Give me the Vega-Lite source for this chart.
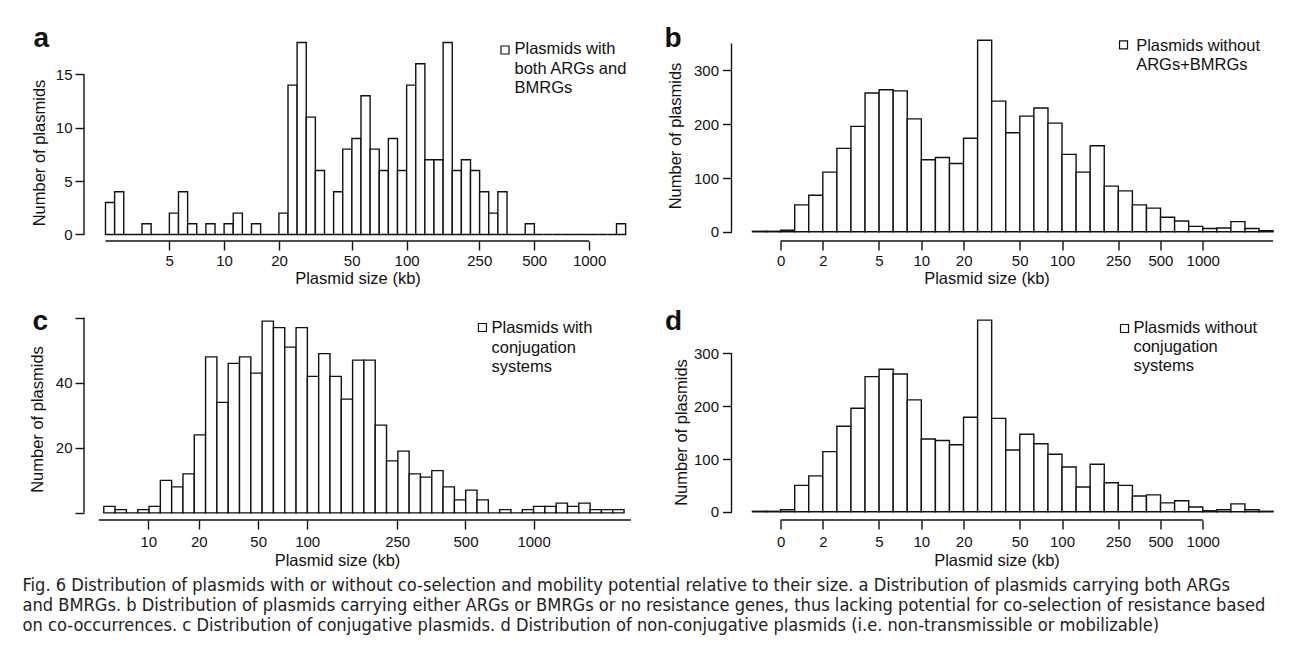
{
  "$schema": "https://vega.github.io/schema/vega-lite/v6.json",
  "background": "white",
  "padding": {"left": 22, "top": 25, "right": 0, "bottom": 0},
  "columns": 2,
  "spacing": {"row": 72, "column": 103.5},
  "bounds": "flush",
  "title": {
    "text": [
      "Fig. 6 Distribution of plasmids with or without co-selection and mobility potential relative to their size. a Distribution of plasmids carrying both ARGs",
      "and BMRGs. b Distribution of plasmids carrying either ARGs or BMRGs or no resistance genes, thus lacking potential for co-selection of resistance based",
      "on co-occurrences. c Distribution of conjugative plasmids. d Distribution of non-conjugative plasmids (i.e. non-transmissible or mobilizable)"
    ],
    "orient": "bottom", "anchor": "start", "frame": "group", "dx": -61.5, "offset": 8,
    "font": "Liberation Sans Narrow, DejaVu Sans Condensed, sans-serif", "fontSize": 18.1, "fontWeight": "normal",
    "color": "#222", "lineHeight": 20
  },
  "datasets": {
    "a": [
      {"lo":0.35,"hi":0.40,"count":3},{"lo":0.40,"hi":0.45,"count":4},{"lo":0.45,"hi":0.50,"count":0},{"lo":0.50,"hi":0.55,"count":0},
      {"lo":0.55,"hi":0.60,"count":1},{"lo":0.60,"hi":0.65,"count":0},{"lo":0.65,"hi":0.70,"count":0},{"lo":0.70,"hi":0.75,"count":2},
      {"lo":0.75,"hi":0.80,"count":4},{"lo":0.80,"hi":0.85,"count":1},{"lo":0.85,"hi":0.90,"count":0},{"lo":0.90,"hi":0.95,"count":1},
      {"lo":0.95,"hi":1.00,"count":0},{"lo":1.00,"hi":1.05,"count":1},{"lo":1.05,"hi":1.10,"count":2},{"lo":1.10,"hi":1.15,"count":0},
      {"lo":1.15,"hi":1.20,"count":1},{"lo":1.20,"hi":1.25,"count":0},{"lo":1.25,"hi":1.30,"count":0},{"lo":1.30,"hi":1.35,"count":2},
      {"lo":1.35,"hi":1.40,"count":14},{"lo":1.40,"hi":1.45,"count":18},{"lo":1.45,"hi":1.50,"count":11},{"lo":1.50,"hi":1.55,"count":6},
      {"lo":1.55,"hi":1.60,"count":0},{"lo":1.60,"hi":1.65,"count":4},{"lo":1.65,"hi":1.70,"count":8},{"lo":1.70,"hi":1.75,"count":9},
      {"lo":1.75,"hi":1.80,"count":13},{"lo":1.80,"hi":1.85,"count":8},{"lo":1.85,"hi":1.90,"count":6},{"lo":1.90,"hi":1.95,"count":9},
      {"lo":1.95,"hi":2.00,"count":6},{"lo":2.00,"hi":2.05,"count":14},{"lo":2.05,"hi":2.10,"count":16},{"lo":2.10,"hi":2.15,"count":7},
      {"lo":2.15,"hi":2.20,"count":7},{"lo":2.20,"hi":2.25,"count":18},{"lo":2.25,"hi":2.30,"count":6},{"lo":2.30,"hi":2.35,"count":7},
      {"lo":2.35,"hi":2.40,"count":6},{"lo":2.40,"hi":2.45,"count":4},{"lo":2.45,"hi":2.50,"count":2},{"lo":2.50,"hi":2.55,"count":4},
      {"lo":2.55,"hi":2.60,"count":0},{"lo":2.60,"hi":2.65,"count":0},{"lo":2.65,"hi":2.70,"count":1},{"lo":2.70,"hi":2.75,"count":0},
      {"lo":2.75,"hi":2.80,"count":0},{"lo":2.80,"hi":2.85,"count":0},{"lo":2.85,"hi":2.90,"count":0},{"lo":2.90,"hi":2.95,"count":0},
      {"lo":2.95,"hi":3.00,"count":0},{"lo":3.00,"hi":3.05,"count":0},{"lo":3.05,"hi":3.10,"count":0},{"lo":3.10,"hi":3.15,"count":0},
      {"lo":3.15,"hi":3.20,"count":1}
    ],
    "b": [
      {"lo":-0.2,"hi":-0.1,"count":1},{"lo":-0.1,"hi":0.0,"count":1},{"lo":0.0,"hi":0.1,"count":3},{"lo":0.1,"hi":0.2,"count":50},
      {"lo":0.2,"hi":0.3,"count":68},{"lo":0.3,"hi":0.4,"count":111},{"lo":0.4,"hi":0.5,"count":155},{"lo":0.5,"hi":0.6,"count":196},
      {"lo":0.6,"hi":0.7,"count":258},{"lo":0.7,"hi":0.8,"count":264},{"lo":0.8,"hi":0.9,"count":262},{"lo":0.9,"hi":1.0,"count":210},
      {"lo":1.0,"hi":1.1,"count":134},{"lo":1.1,"hi":1.2,"count":138},{"lo":1.2,"hi":1.3,"count":127},{"lo":1.3,"hi":1.4,"count":174},
      {"lo":1.4,"hi":1.5,"count":356},{"lo":1.5,"hi":1.6,"count":243},{"lo":1.6,"hi":1.7,"count":184},{"lo":1.7,"hi":1.8,"count":215},
      {"lo":1.8,"hi":1.9,"count":230},{"lo":1.9,"hi":2.0,"count":202},{"lo":2.0,"hi":2.1,"count":144},{"lo":2.1,"hi":2.2,"count":111},
      {"lo":2.2,"hi":2.3,"count":160},{"lo":2.3,"hi":2.4,"count":85},{"lo":2.4,"hi":2.5,"count":76},{"lo":2.5,"hi":2.6,"count":50},
      {"lo":2.6,"hi":2.7,"count":44},{"lo":2.7,"hi":2.8,"count":27},{"lo":2.8,"hi":2.9,"count":20},{"lo":2.9,"hi":3.0,"count":10},
      {"lo":3.0,"hi":3.1,"count":6},{"lo":3.1,"hi":3.2,"count":7},{"lo":3.2,"hi":3.3,"count":19},{"lo":3.3,"hi":3.4,"count":6},
      {"lo":3.4,"hi":3.5,"count":2}
    ],
    "c": [
      {"lo":0,"hi":1,"count":2},{"lo":1,"hi":2,"count":1},{"lo":2,"hi":3,"count":0},{"lo":3,"hi":4,"count":1},
      {"lo":4,"hi":5,"count":2},{"lo":5,"hi":6,"count":10},{"lo":6,"hi":7,"count":8},{"lo":7,"hi":8,"count":12},
      {"lo":8,"hi":9,"count":24},{"lo":9,"hi":10,"count":48},{"lo":10,"hi":11,"count":34},{"lo":11,"hi":12,"count":46},
      {"lo":12,"hi":13,"count":48},{"lo":13,"hi":14,"count":43},{"lo":14,"hi":15,"count":59},{"lo":15,"hi":16,"count":57},
      {"lo":16,"hi":17,"count":51},{"lo":17,"hi":18,"count":57},{"lo":18,"hi":19,"count":42},{"lo":19,"hi":20,"count":49},
      {"lo":20,"hi":21,"count":42},{"lo":21,"hi":22,"count":35},{"lo":22,"hi":23,"count":47},{"lo":23,"hi":24,"count":47},
      {"lo":24,"hi":25,"count":27},{"lo":25,"hi":26,"count":16},{"lo":26,"hi":27,"count":19},{"lo":27,"hi":28,"count":12},
      {"lo":28,"hi":29,"count":11},{"lo":29,"hi":30,"count":13},{"lo":30,"hi":31,"count":8},{"lo":31,"hi":32,"count":4},
      {"lo":32,"hi":33,"count":7},{"lo":33,"hi":34,"count":4},{"lo":34,"hi":35,"count":0},{"lo":35,"hi":36,"count":1},
      {"lo":36,"hi":37,"count":0},{"lo":37,"hi":38,"count":1},{"lo":38,"hi":39,"count":2},{"lo":39,"hi":40,"count":2},
      {"lo":40,"hi":41,"count":3},{"lo":41,"hi":42,"count":2},{"lo":42,"hi":43,"count":3},{"lo":43,"hi":44,"count":1},
      {"lo":44,"hi":45,"count":1},{"lo":45,"hi":46,"count":1}
    ],
    "d": [
      {"lo":-0.2,"hi":-0.1,"count":1},{"lo":-0.1,"hi":0.0,"count":1},{"lo":0.0,"hi":0.1,"count":4},{"lo":0.1,"hi":0.2,"count":50},
      {"lo":0.2,"hi":0.3,"count":68},{"lo":0.3,"hi":0.4,"count":114},{"lo":0.4,"hi":0.5,"count":162},{"lo":0.5,"hi":0.6,"count":196},
      {"lo":0.6,"hi":0.7,"count":256},{"lo":0.7,"hi":0.8,"count":270},{"lo":0.8,"hi":0.9,"count":261},{"lo":0.9,"hi":1.0,"count":212},
      {"lo":1.0,"hi":1.1,"count":138},{"lo":1.1,"hi":1.2,"count":135},{"lo":1.2,"hi":1.3,"count":127},{"lo":1.3,"hi":1.4,"count":179},
      {"lo":1.4,"hi":1.5,"count":363},{"lo":1.5,"hi":1.6,"count":177},{"lo":1.6,"hi":1.7,"count":117},{"lo":1.7,"hi":1.8,"count":147},
      {"lo":1.8,"hi":1.9,"count":129},{"lo":1.9,"hi":2.0,"count":109},{"lo":2.0,"hi":2.1,"count":85},{"lo":2.1,"hi":2.2,"count":47},
      {"lo":2.2,"hi":2.3,"count":90},{"lo":2.3,"hi":2.4,"count":55},{"lo":2.4,"hi":2.5,"count":50},{"lo":2.5,"hi":2.6,"count":30},
      {"lo":2.6,"hi":2.7,"count":32},{"lo":2.7,"hi":2.8,"count":17},{"lo":2.8,"hi":2.9,"count":21},{"lo":2.9,"hi":3.0,"count":9},
      {"lo":3.0,"hi":3.1,"count":2},{"lo":3.1,"hi":3.2,"count":4},{"lo":3.2,"hi":3.3,"count":15},{"lo":3.3,"hi":3.4,"count":4},
      {"lo":3.4,"hi":3.5,"count":1}
    ]
  },
  "concat": [
    {
      "width": 544, "height": 207,
      "layer": [
        {
          "data": {"name": "a"},
          "mark": {"type": "rect", "fill": "white", "stroke": "#111", "strokeWidth": 1.4},
          "encoding": {
            "x": {"field": "lo", "type": "quantitative",
                  "scale": {"domain": [0.2322, 3.213], "nice": false, "zero": false},
                  "axis": {"values": [0.69897, 1, 1.30103, 1.69897, 2, 2.39794, 2.69897, 3],
                           "labelExpr": "format(round(pow(10, datum.value)), 'd')",
                           "title": "Plasmid size (kb)", "titleX": 273.5, "titleY": 37.5}},
            "x2": {"field": "hi"},
            "y": {"field": "count", "type": "quantitative",
                  "scale": {"domain": [-0.61, 18.79], "nice": false, "zero": false},
                  "axis": {"values": [0, 5, 10, 15], "title": "Number of plasmids", "titleX": -44.5, "titleY": 118.5}},
            "y2": {"datum": 0}
          }
        },
        {
          "data": {"values": [{}]},
          "mark": {"type": "rule", "stroke": "#111", "strokeWidth": 1.4},
          "encoding": {"x": {"datum": 0.35, "type": "quantitative"}, "x2": {"datum": 3},
                       "y": {"datum": -0.61, "type": "quantitative"}}
        },
        {
          "data": {"values": [{}]},
          "mark": {"type": "rule", "stroke": "#111", "strokeWidth": 1.4},
          "encoding": {"x": {"datum": 0.2322, "type": "quantitative"},
                       "y": {"datum": 0, "type": "quantitative"}, "y2": {"datum": 15}}
        },
        {
          "data": {"values": [{}]},
          "mark": {"type": "point", "shape": "square", "size": 64, "filled": true, "fill": "white", "stroke": "#111", "strokeWidth": 1.2, "opacity": 1},
          "encoding": {"x": {"datum": 2.539, "type": "quantitative"}, "y": {"datum": 17.29, "type": "quantitative"}}
        },
        {
          "data": {"values": [{}]},
          "mark": {"type": "text", "text": ["Plasmids with", "both ARGs and", "BMRGs"], "align": "left", "baseline": "top", "fontSize": 16.5, "lineHeight": 19.5, "color": "#111"},
          "encoding": {"x": {"datum": 2.591, "type": "quantitative"}, "y": {"datum": 18.09, "type": "quantitative"}}
        },
        {
          "data": {"values": [{}]},
          "mark": {"type": "text", "text": "a", "align": "left", "baseline": "alphabetic", "fontSize": 28, "fontWeight": "bold", "color": "#111"},
          "encoding": {"x": {"datum": -0.0445, "type": "quantitative"}, "y": {"datum": 17.57, "type": "quantitative"}}
        }
      ]
    },
    {
      "width": 544, "height": 207,
      "layer": [
        {
          "data": {"name": "b"},
          "mark": {"type": "rect", "fill": "white", "stroke": "#111", "strokeWidth": 1.4},
          "encoding": {
            "x": {"field": "lo", "type": "quantitative",
                  "scale": {"domain": [-0.349, 3.517], "nice": false, "zero": false},
                  "axis": {"values": [0, 0.30103, 0.69897, 1, 1.30103, 1.69897, 2, 2.39794, 2.69897, 3],
                           "labelExpr": "datum.value == 0 ? '0' : format(round(pow(10, datum.value)), 'd')",
                           "title": "Plasmid size (kb)", "titleX": 255, "titleY": 37.5}},
            "x2": {"field": "hi"},
            "y": {"field": "count", "type": "quantitative",
                  "scale": {"domain": [-17.1, 367.7], "nice": false, "zero": false},
                  "axis": {"values": [0, 50, 100, 150, 200, 250, 300, 350],
                           "labelExpr": "datum.value % 100 == 0 ? datum.label : ''",
                           "labelPadding": 4,
                           "title": "Number of plasmids", "titleX": -55.7, "titleY": 101.5}},
            "y2": {"datum": 0}
          }
        },
        {
          "data": {"values": [{}]},
          "mark": {"type": "rule", "stroke": "#111", "strokeWidth": 1.4},
          "encoding": {"x": {"datum": 0, "type": "quantitative"}, "x2": {"datum": 3.5},
                       "y": {"datum": -17.1, "type": "quantitative"}}
        },
        {
          "data": {"values": [{}]},
          "mark": {"type": "rule", "stroke": "#111", "strokeWidth": 1.4},
          "encoding": {"x": {"datum": -0.349, "type": "quantitative"},
                       "y": {"datum": 0, "type": "quantitative"}, "y2": {"datum": 350}}
        },
        {
          "data": {"values": [{}]},
          "mark": {"type": "point", "shape": "square", "size": 64, "filled": true, "fill": "white", "stroke": "#111", "strokeWidth": 1.2, "opacity": 1},
          "encoding": {"x": {"datum": 2.437, "type": "quantitative"}, "y": {"datum": 347.3, "type": "quantitative"}}
        },
        {
          "data": {"values": [{}]},
          "mark": {"type": "text", "text": ["Plasmids without", "ARGs+BMRGs"], "align": "left", "baseline": "top", "fontSize": 16.5, "lineHeight": 19, "color": "#111"},
          "encoding": {"x": {"datum": 2.527, "type": "quantitative"}, "y": {"datum": 359.9, "type": "quantitative"}}
        },
        {
          "data": {"values": [{}]},
          "mark": {"type": "text", "text": "b", "align": "left", "baseline": "alphabetic", "fontSize": 28, "fontWeight": "bold", "color": "#111"},
          "encoding": {"x": {"datum": -0.825, "type": "quantitative"}, "y": {"datum": 343.5, "type": "quantitative"}}
        }
      ]
    },
    {
      "width": 544, "height": 207,
      "layer": [
        {
          "data": {"name": "c"},
          "mark": {"type": "rect", "fill": "white", "stroke": "#111", "strokeWidth": 1.4},
          "encoding": {
            "x": {"field": "lo", "type": "quantitative",
                  "scale": {"domain": [-1.75, 46.35], "nice": false, "zero": false},
                  "axis": {"values": [3.93, 8.4, 13.65, 17.98, 25.94, 31.98, 38],
                           "labelExpr": "datum.value < 5 ? '10' : datum.value < 10 ? '20' : datum.value < 15 ? '50' : datum.value < 20 ? '100' : datum.value < 28 ? '250' : datum.value < 35 ? '500' : '1000'",
                           "labelPadding": 5,
                           "title": "Plasmid size (kb)", "titleX": 253, "titleY": 40.5}},
            "x2": {"field": "hi"},
            "y": {"field": "count", "type": "quantitative",
                  "scale": {"domain": [-2.2, 61.5], "nice": false, "zero": false},
                  "axis": {"values": [0, 10, 20, 30, 40, 50, 60],
                           "labelExpr": "datum.value == 0 || datum.value == 60 ? '' : datum.label",
                           "title": "Number of plasmids", "titleX": -47, "titleY": 106}},
            "y2": {"datum": 0}
          }
        },
        {
          "data": {"values": [{}]},
          "mark": {"type": "rule", "stroke": "#111", "strokeWidth": 1.4},
          "encoding": {"x": {"datum": -0.45, "type": "quantitative"}, "x2": {"datum": 46.6},
                       "y": {"datum": -2.2, "type": "quantitative"}}
        },
        {
          "data": {"values": [{}]},
          "mark": {"type": "rule", "stroke": "#111", "strokeWidth": 1.4},
          "encoding": {"x": {"datum": -1.75, "type": "quantitative"},
                       "y": {"datum": 0, "type": "quantitative"}, "y2": {"datum": 60}}
        },
        {
          "data": {"values": [{}]},
          "mark": {"type": "point", "shape": "square", "size": 64, "filled": true, "fill": "white", "stroke": "#111", "strokeWidth": 1.2, "opacity": 1},
          "encoding": {"x": {"datum": 33.48, "type": "quantitative"}, "y": {"datum": 57.04, "type": "quantitative"}}
        },
        {
          "data": {"values": [{}]},
          "mark": {"type": "text", "text": ["Plasmids with", "conjugation", "systems"], "align": "left", "baseline": "top", "fontSize": 16.5, "lineHeight": 19.3, "color": "#111"},
          "encoding": {"x": {"datum": 34.28, "type": "quantitative"}, "y": {"datum": 59.28, "type": "quantitative"}}
        },
        {
          "data": {"values": [{}]},
          "mark": {"type": "text", "text": "c", "align": "left", "baseline": "alphabetic", "fontSize": 28, "fontWeight": "bold", "color": "#111"},
          "encoding": {"x": {"datum": -6.3, "type": "quantitative"}, "y": {"datum": 56.12, "type": "quantitative"}}
        }
      ]
    },
    {
      "width": 544, "height": 207,
      "layer": [
        {
          "data": {"name": "d"},
          "mark": {"type": "rect", "fill": "white", "stroke": "#111", "strokeWidth": 1.4},
          "encoding": {
            "x": {"field": "lo", "type": "quantitative",
                  "scale": {"domain": [-0.349, 3.517], "nice": false, "zero": false},
                  "axis": {"values": [0, 0.30103, 0.69897, 1, 1.30103, 1.69897, 2, 2.39794, 2.69897, 3],
                           "labelExpr": "datum.value == 0 ? '0' : format(round(pow(10, datum.value)), 'd')",
                           "labelPadding": 5,
                           "title": "Plasmid size (kb)", "titleX": 265, "titleY": 40.5}},
            "x2": {"field": "hi"},
            "y": {"field": "count", "type": "quantitative",
                  "scale": {"domain": [-15.5, 376.5], "nice": false, "zero": false},
                  "axis": {"values": [0, 100, 200, 300], "labelPadding": 4,
                           "title": "Number of plasmids", "titleX": -50, "titleY": 119}},
            "y2": {"datum": 0}
          }
        },
        {
          "data": {"values": [{}]},
          "mark": {"type": "rule", "stroke": "#111", "strokeWidth": 1.4},
          "encoding": {"x": {"datum": 0, "type": "quantitative"}, "x2": {"datum": 3},
                       "y": {"datum": -15.5, "type": "quantitative"}}
        },
        {
          "data": {"values": [{}]},
          "mark": {"type": "rule", "stroke": "#111", "strokeWidth": 1.4},
          "encoding": {"x": {"datum": -0.349, "type": "quantitative"},
                       "y": {"datum": 0, "type": "quantitative"}, "y2": {"datum": 300}}
        },
        {
          "data": {"values": [{}]},
          "mark": {"type": "point", "shape": "square", "size": 64, "filled": true, "fill": "white", "stroke": "#111", "strokeWidth": 1.2, "opacity": 1},
          "encoding": {"x": {"datum": 2.444, "type": "quantitative"}, "y": {"datum": 347.1, "type": "quantitative"}}
        },
        {
          "data": {"values": [{}]},
          "mark": {"type": "text", "text": ["Plasmids without", "conjugation", "systems"], "align": "left", "baseline": "top", "fontSize": 16.5, "lineHeight": 19.3, "color": "#111"},
          "encoding": {"x": {"datum": 2.507, "type": "quantitative"}, "y": {"datum": 363.6, "type": "quantitative"}}
        },
        {
          "data": {"values": [{}]},
          "mark": {"type": "text", "text": "d", "align": "left", "baseline": "alphabetic", "fontSize": 28, "fontWeight": "bold", "color": "#111"},
          "encoding": {"x": {"datum": -0.822, "type": "quantitative"}, "y": {"datum": 343.4, "type": "quantitative"}}
        }
      ]
    }
  ],
  "config": {
    "view": {"stroke": null},
    "font": "Liberation Sans",
    "text": {"font": "Liberation Sans"},
    "axis": {
      "domain": false, "grid": false, "ticks": true, "tickSize": 9, "tickColor": "#111", "tickWidth": 1.4,
      "labelFont": "Liberation Sans", "labelFontSize": 15, "labelColor": "#111", "labelPadding": 3,
      "labelFlush": false, "labelOverlap": false, "labelBound": false,
      "titleFont": "Liberation Sans", "titleFontSize": 16.5, "titleFontWeight": "normal", "titleColor": "#111"
    },
    "axisX": {"titleBaseline": "middle", "titleAlign": "center"},
    "axisY": {"titleAngle": 270, "titleBaseline": "middle", "titleAlign": "center"}
  }
}
